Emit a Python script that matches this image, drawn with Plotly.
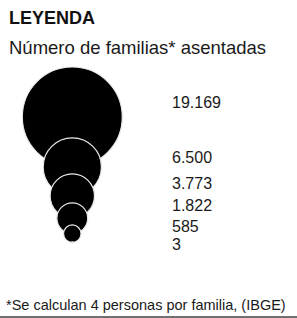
import math
import plotly.graph_objects as go

# Data
values = [19169, 6500, 3773, 1822, 585, 3]
labels = ["19.169", "6.500", "3.773", "1.822", "585", "3"]
title = "LEYENDA"
subtitle = "Número de familias* asentadas"
footnote = "*Se calculan 4 personas por familia, (IBGE)"

# Layout (pixel coordinate system)
W, H = 297, 318
k = 0.361                 # px radius per sqrt(value)
cx, cy0 = 72.3, 117       # center of largest circle
label_x = 172
label_y = [104, 158.5, 185.3, 207, 228, 246.3]

radii = [k * math.sqrt(v) for v in values]
centers = [cy0]
for i in range(1, len(values)):
    centers.append(centers[-1] + radii[i - 1])

fig = go.Figure()
fig.add_trace(go.Scatter(
    x=[cx] * len(values), y=centers, mode="markers",
    marker=dict(size=[2 * r for r in radii], sizemode="diameter", color="black",
                line=dict(color="#e8e8e8", width=1.2), opacity=1),
    hoverinfo="skip", showlegend=False,
))
fig.add_trace(go.Scatter(
    x=[label_x] * len(labels), y=label_y, mode="text", text=labels,
    textposition="middle right",
    textfont=dict(family="Arial, Liberation Sans", size=16, color="#1a1a1a"),
    hoverinfo="skip", showlegend=False,
))

font = "Arial, Liberation Sans"
fig.add_annotation(x=7, y=18.3, xref="x", yref="y", text="<b>" + title + "</b>",
                   showarrow=False, xanchor="left", yanchor="middle",
                   font=dict(family=font, size=18, color="#111"))
fig.add_annotation(x=7, y=47.5, xref="x", yref="y", text=subtitle,
                   showarrow=False, xanchor="left", yanchor="middle",
                   font=dict(family=font, size=18.5, color="#1a1a1a"))
fig.add_annotation(x=4, y=305.3, xref="x", yref="y", text=footnote,
                   showarrow=False, xanchor="left", yanchor="middle",
                   font=dict(family=font, size=14.5, color="#1a1a1a"))
fig.add_shape(type="line", x0=0, x1=W, y0=317, y1=317, xref="x", yref="y",
              line=dict(color="#707070", width=2))

fig.update_layout(
    width=W, height=H, margin=dict(l=0, r=0, t=0, b=0),
    paper_bgcolor="white", plot_bgcolor="white",
    xaxis=dict(range=[0, W], visible=False, fixedrange=True),
    yaxis=dict(range=[H, 0], visible=False, fixedrange=True),
)
fig.write_html(
    "out.html",
    config={"displayModeBar": False},
    post_script="document.body.style.margin='0';document.body.style.padding='0';"
                "document.body.style.overflow='hidden';",
)
